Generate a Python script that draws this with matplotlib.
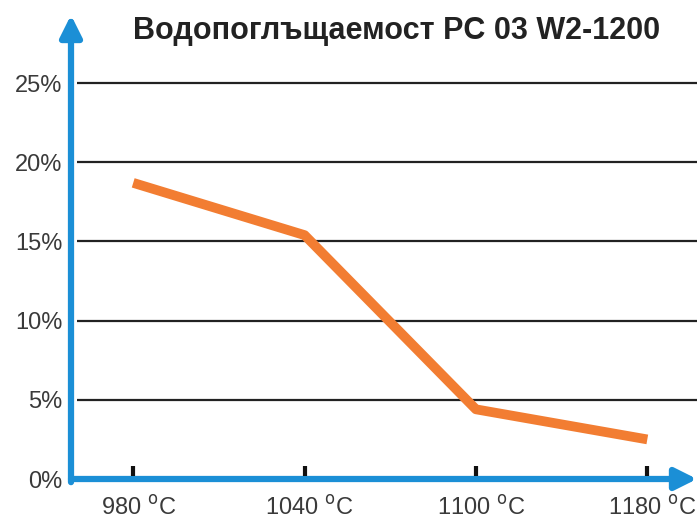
import numpy as np
import matplotlib.pyplot as plt
import matplotlib.transforms as mtransforms

# Data
temps = ['980', '1040', '1100', '1180']
absorption = [18.7, 15.4, 4.4, 2.5]          # water absorption, %
y_ticks = [0, 5, 10, 15, 20, 25]
title = 'Водопоглъщаемост PC 03 W2-1200'

plt.rcParams['font.family'] = ['Liberation Sans', 'DejaVu Sans']

blue = '#1b8fd6'
orange = '#f27d32'

fig = plt.figure(figsize=(6.97, 5.22), dpi=100)
ax = fig.add_axes([71 / 697, 43 / 522, 626 / 697, 464 / 522])

x = np.arange(len(temps))
ax.set_xlim(-0.363, 3.29)
ax.set_ylim(0, 29.3)

# horizontal grid lines
for v in y_ticks[1:]:
    ax.plot([-0.33, 3.29], [v, v], color='#222222', lw=1.6, zorder=1, solid_capstyle='butt')

# data line
ax.plot(x, absorption, color=orange, lw=7, zorder=3, solid_capstyle='butt')

# blue axes with arrow heads
arrow = dict(arrowstyle='-|>,head_length=1.3,head_width=0.65',
             color=blue, lw=4.5, shrinkA=0, shrinkB=0)
ax.annotate('', xy=(3.29, 0), xytext=(-0.363, 0), arrowprops=arrow,
            annotation_clip=False, zorder=4)
ax.annotate('', xy=(-0.363, 29.3), xytext=(-0.363, -0.2), arrowprops=arrow,
            annotation_clip=False, zorder=4)

# small black ticks on the x axis
for xi in x:
    ax.plot([xi, xi], [0.2, 0.8], color='#111111', lw=3, zorder=5, solid_capstyle='butt')

for s in ax.spines.values():
    s.set_visible(False)

ax.set_yticks(y_ticks)
ax.set_yticklabels([f'{v}%' for v in y_ticks], fontsize=17, color='#3a3a3a')
ax.set_xticks(x)
ax.set_xticklabels([f'{t} $^{{\\mathrm{{o}}}}$C' for t in temps], fontsize=17, color='#3a3a3a')
ax.tick_params(axis='y', length=0, pad=6)
ax.tick_params(axis='x', length=0, pad=12)

# labels sit a little right of their ticks in the reference
shift = mtransforms.ScaledTranslation(5 / 100, 0, fig.dpi_scale_trans)
for lbl in ax.get_xticklabels():
    lbl.set_transform(lbl.get_transform() + shift)

fig.text(397 / 697, 1 - 31 / 522, title, ha='center', va='center',
         fontsize=22, fontweight='bold', color='#222222')

fig.savefig('out.png', dpi=100)
